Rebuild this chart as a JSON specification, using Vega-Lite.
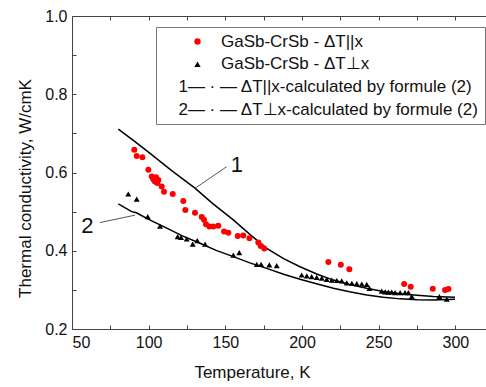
{
  "$schema": "https://vega.github.io/schema/vega-lite/v6.json",
  "width": 414,
  "height": 313,
  "autosize": "none",
  "padding": {"left": 72, "top": 16, "right": 0, "bottom": 58},
  "config": {
    "view": {"stroke": null},
    "font": "Liberation Sans",
    "axis": {
      "domainColor": "#444",
      "tickColor": "#444",
      "labelColor": "#111",
      "titleColor": "#111",
      "labelFont": "Liberation Sans",
      "titleFont": "Liberation Sans",
      "labelFontSize": 16,
      "titleFontSize": 17,
      "titleFontWeight": "normal",
      "grid": false,
      "tickSize": -4,
      "labelPadding": 9
    },
    "legend": {
      "labelFont": "Liberation Sans",
      "labelFontSize": 17,
      "labelColor": "#111",
      "title": null,
      "orient": "none",
      "legendX": 84,
      "legendY": 11,
      "padding": 6,
      "rowPadding": 4.7,
      "strokeColor": "#777",
      "fillColor": "#fff",
      "symbolSize": 40,
      "symbolOffset": 27,
      "labelOffset": -37,
      "labelLimit": 500
    }
  },
  "datasets": {
    "points": [
      {"T": 90.6, "k": 0.658, "series": "GaSb-CrSb - ΔT||x"},
      {"T": 92.2, "k": 0.642, "series": "GaSb-CrSb - ΔT||x"},
      {"T": 95.9, "k": 0.639, "series": "GaSb-CrSb - ΔT||x"},
      {"T": 99.8, "k": 0.607, "series": "GaSb-CrSb - ΔT||x"},
      {"T": 102.0, "k": 0.590, "series": "GaSb-CrSb - ΔT||x"},
      {"T": 103.0, "k": 0.583, "series": "GaSb-CrSb - ΔT||x"},
      {"T": 104.8, "k": 0.588, "series": "GaSb-CrSb - ΔT||x"},
      {"T": 106.3, "k": 0.581, "series": "GaSb-CrSb - ΔT||x"},
      {"T": 104.1, "k": 0.577, "series": "GaSb-CrSb - ΔT||x"},
      {"T": 105.6, "k": 0.573, "series": "GaSb-CrSb - ΔT||x"},
      {"T": 108.5, "k": 0.564, "series": "GaSb-CrSb - ΔT||x"},
      {"T": 110.0, "k": 0.551, "series": "GaSb-CrSb - ΔT||x"},
      {"T": 115.7, "k": 0.545, "series": "GaSb-CrSb - ΔT||x"},
      {"T": 122.6, "k": 0.527, "series": "GaSb-CrSb - ΔT||x"},
      {"T": 123.9, "k": 0.504, "series": "GaSb-CrSb - ΔT||x"},
      {"T": 130.2, "k": 0.497, "series": "GaSb-CrSb - ΔT||x"},
      {"T": 134.6, "k": 0.486, "series": "GaSb-CrSb - ΔT||x"},
      {"T": 136.1, "k": 0.479, "series": "GaSb-CrSb - ΔT||x"},
      {"T": 137.4, "k": 0.468, "series": "GaSb-CrSb - ΔT||x"},
      {"T": 139.6, "k": 0.462, "series": "GaSb-CrSb - ΔT||x"},
      {"T": 142.2, "k": 0.462, "series": "GaSb-CrSb - ΔT||x"},
      {"T": 145.4, "k": 0.464, "series": "GaSb-CrSb - ΔT||x"},
      {"T": 149.2, "k": 0.449, "series": "GaSb-CrSb - ΔT||x"},
      {"T": 152.0, "k": 0.446, "series": "GaSb-CrSb - ΔT||x"},
      {"T": 158.1, "k": 0.438, "series": "GaSb-CrSb - ΔT||x"},
      {"T": 161.7, "k": 0.439, "series": "GaSb-CrSb - ΔT||x"},
      {"T": 165.7, "k": 0.432, "series": "GaSb-CrSb - ΔT||x"},
      {"T": 171.5, "k": 0.421, "series": "GaSb-CrSb - ΔT||x"},
      {"T": 173.1, "k": 0.412, "series": "GaSb-CrSb - ΔT||x"},
      {"T": 175.4, "k": 0.406, "series": "GaSb-CrSb - ΔT||x"},
      {"T": 217.2, "k": 0.371, "series": "GaSb-CrSb - ΔT||x"},
      {"T": 225.3, "k": 0.364, "series": "GaSb-CrSb - ΔT||x"},
      {"T": 230.9, "k": 0.353, "series": "GaSb-CrSb - ΔT||x"},
      {"T": 266.6, "k": 0.315, "series": "GaSb-CrSb - ΔT||x"},
      {"T": 270.9, "k": 0.308, "series": "GaSb-CrSb - ΔT||x"},
      {"T": 285.3, "k": 0.303, "series": "GaSb-CrSb - ΔT||x"},
      {"T": 293.3, "k": 0.300, "series": "GaSb-CrSb - ΔT||x"},
      {"T": 295.5, "k": 0.302, "series": "GaSb-CrSb - ΔT||x"},
      {"T": 86.7, "k": 0.545, "series": "GaSb-CrSb - ΔT⊥x"},
      {"T": 92.2, "k": 0.532, "series": "GaSb-CrSb - ΔT⊥x"},
      {"T": 99.4, "k": 0.487, "series": "GaSb-CrSb - ΔT⊥x"},
      {"T": 107.4, "k": 0.463, "series": "GaSb-CrSb - ΔT⊥x"},
      {"T": 118.9, "k": 0.436, "series": "GaSb-CrSb - ΔT⊥x"},
      {"T": 121.1, "k": 0.434, "series": "GaSb-CrSb - ΔT⊥x"},
      {"T": 124.8, "k": 0.430, "series": "GaSb-CrSb - ΔT⊥x"},
      {"T": 128.7, "k": 0.417, "series": "GaSb-CrSb - ΔT⊥x"},
      {"T": 131.7, "k": 0.426, "series": "GaSb-CrSb - ΔT⊥x"},
      {"T": 136.8, "k": 0.417, "series": "GaSb-CrSb - ΔT⊥x"},
      {"T": 155.2, "k": 0.389, "series": "GaSb-CrSb - ΔT⊥x"},
      {"T": 159.1, "k": 0.395, "series": "GaSb-CrSb - ΔT⊥x"},
      {"T": 170.5, "k": 0.365, "series": "GaSb-CrSb - ΔT⊥x"},
      {"T": 173.3, "k": 0.365, "series": "GaSb-CrSb - ΔT⊥x"},
      {"T": 178.7, "k": 0.364, "series": "GaSb-CrSb - ΔT⊥x"},
      {"T": 183.5, "k": 0.362, "series": "GaSb-CrSb - ΔT⊥x"},
      {"T": 199.8, "k": 0.338, "series": "GaSb-CrSb - ΔT⊥x"},
      {"T": 203.1, "k": 0.336, "series": "GaSb-CrSb - ΔT⊥x"},
      {"T": 206.3, "k": 0.334, "series": "GaSb-CrSb - ΔT⊥x"},
      {"T": 209.6, "k": 0.332, "series": "GaSb-CrSb - ΔT⊥x"},
      {"T": 212.9, "k": 0.330, "series": "GaSb-CrSb - ΔT⊥x"},
      {"T": 216.1, "k": 0.327, "series": "GaSb-CrSb - ΔT⊥x"},
      {"T": 219.4, "k": 0.325, "series": "GaSb-CrSb - ΔT⊥x"},
      {"T": 222.7, "k": 0.324, "series": "GaSb-CrSb - ΔT⊥x"},
      {"T": 225.9, "k": 0.323, "series": "GaSb-CrSb - ΔT⊥x"},
      {"T": 229.2, "k": 0.318, "series": "GaSb-CrSb - ΔT⊥x"},
      {"T": 232.5, "k": 0.317, "series": "GaSb-CrSb - ΔT⊥x"},
      {"T": 235.7, "k": 0.316, "series": "GaSb-CrSb - ΔT⊥x"},
      {"T": 239.0, "k": 0.315, "series": "GaSb-CrSb - ΔT⊥x"},
      {"T": 242.2, "k": 0.314, "series": "GaSb-CrSb - ΔT⊥x"},
      {"T": 244.0, "k": 0.304, "series": "GaSb-CrSb - ΔT⊥x"},
      {"T": 252.0, "k": 0.297, "series": "GaSb-CrSb - ΔT⊥x"},
      {"T": 254.2, "k": 0.295, "series": "GaSb-CrSb - ΔT⊥x"},
      {"T": 256.3, "k": 0.294, "series": "GaSb-CrSb - ΔT⊥x"},
      {"T": 258.5, "k": 0.294, "series": "GaSb-CrSb - ΔT⊥x"},
      {"T": 260.7, "k": 0.293, "series": "GaSb-CrSb - ΔT⊥x"},
      {"T": 264.0, "k": 0.293, "series": "GaSb-CrSb - ΔT⊥x"},
      {"T": 267.2, "k": 0.293, "series": "GaSb-CrSb - ΔT⊥x"},
      {"T": 269.4, "k": 0.293, "series": "GaSb-CrSb - ΔT⊥x"},
      {"T": 271.6, "k": 0.283, "series": "GaSb-CrSb - ΔT⊥x"},
      {"T": 289.6, "k": 0.283, "series": "GaSb-CrSb - ΔT⊥x"},
      {"T": 294.4, "k": 0.276, "series": "GaSb-CrSb - ΔT⊥x"}
    ],
    "curves": [
      {"T": 80.2, "k": 0.711, "curve": "1"},
      {"T": 90.0, "k": 0.682, "curve": "1"},
      {"T": 100.9, "k": 0.649, "curve": "1"},
      {"T": 115.0, "k": 0.605, "curve": "1"},
      {"T": 130.2, "k": 0.560, "curve": "1"},
      {"T": 142.0, "k": 0.520, "curve": "1"},
      {"T": 155.2, "k": 0.479, "curve": "1"},
      {"T": 166.0, "k": 0.442, "curve": "1"},
      {"T": 177.0, "k": 0.406, "curve": "1"},
      {"T": 188.0, "k": 0.380, "curve": "1"},
      {"T": 198.7, "k": 0.359, "curve": "1"},
      {"T": 210.0, "k": 0.340, "curve": "1"},
      {"T": 220.5, "k": 0.325, "curve": "1"},
      {"T": 231.0, "k": 0.314, "curve": "1"},
      {"T": 242.2, "k": 0.304, "curve": "1"},
      {"T": 253.0, "k": 0.296, "curve": "1"},
      {"T": 264.0, "k": 0.290, "curve": "1"},
      {"T": 275.0, "k": 0.286, "curve": "1"},
      {"T": 285.7, "k": 0.283, "curve": "1"},
      {"T": 299.8, "k": 0.281, "curve": "1"},
      {"T": 80.2, "k": 0.520, "curve": "2"},
      {"T": 88.9, "k": 0.500, "curve": "2"},
      {"T": 92.0, "k": 0.497, "curve": "2"},
      {"T": 94.4, "k": 0.492, "curve": "2"},
      {"T": 100.0, "k": 0.480, "curve": "2"},
      {"T": 111.8, "k": 0.458, "curve": "2"},
      {"T": 122.0, "k": 0.438, "curve": "2"},
      {"T": 133.5, "k": 0.419, "curve": "2"},
      {"T": 144.0, "k": 0.401, "curve": "2"},
      {"T": 155.2, "k": 0.385, "curve": "2"},
      {"T": 166.0, "k": 0.369, "curve": "2"},
      {"T": 177.0, "k": 0.355, "curve": "2"},
      {"T": 188.0, "k": 0.340, "curve": "2"},
      {"T": 198.7, "k": 0.327, "curve": "2"},
      {"T": 210.0, "k": 0.315, "curve": "2"},
      {"T": 220.5, "k": 0.304, "curve": "2"},
      {"T": 231.0, "k": 0.295, "curve": "2"},
      {"T": 242.2, "k": 0.287, "curve": "2"},
      {"T": 253.0, "k": 0.281, "curve": "2"},
      {"T": 264.0, "k": 0.277, "curve": "2"},
      {"T": 275.0, "k": 0.275, "curve": "2"},
      {"T": 285.7, "k": 0.274, "curve": "2"},
      {"T": 299.8, "k": 0.276, "curve": "2"}
    ],
    "leaders": [
      {"T1": 150.9, "k1": 0.615, "T2": 130.0, "k2": 0.559},
      {"T1": 68.3, "k1": 0.472, "T2": 91.1, "k2": 0.491}
    ],
    "marks": [
      {"T": 157.6, "k": 0.619, "label": "1"},
      {"T": 60.1, "k": 0.464, "label": "2"}
    ]
  },
  "layer": [
    {
      "data": {"name": "curves"},
      "mark": {"type": "line", "color": "#000", "strokeWidth": 1.5},
      "encoding": {
        "x": {"field": "T", "type": "quantitative", "scale": {"domain": [50, 320], "nice": false, "zero": false},
          "axis": {"orient": "top", "labels": false, "title": null, "values": [50, 75, 100, 125, 150, 175, 200, 225, 250, 275, 300]}},
        "y": {"field": "k", "type": "quantitative", "scale": {"domain": [0.2, 1.0], "nice": false, "zero": false}, "axis": null},
        "detail": {"field": "curve"},
        "order": {"field": "T"}
      }
    },
    {
      "data": {"name": "leaders"},
      "mark": {"type": "rule", "color": "#555", "strokeWidth": 1},
      "encoding": {
        "x": {"field": "T1", "type": "quantitative", "axis": null},
        "y": {"field": "k1", "type": "quantitative", "axis": null},
        "x2": {"field": "T2"},
        "y2": {"field": "k2"}
      }
    },
    {
      "data": {"name": "marks"},
      "mark": {"type": "text", "fontSize": 22, "font": "Liberation Sans", "color": "#111"},
      "encoding": {
        "x": {"field": "T", "type": "quantitative", "axis": null},
        "y": {"field": "k", "type": "quantitative", "axis": null},
        "text": {"field": "label"}
      }
    },
    {
      "data": {"name": "points"},
      "mark": {"type": "point", "filled": true, "opacity": 1, "size": 36},
      "encoding": {
        "x": {"field": "T", "type": "quantitative",
          "axis": {"orient": "bottom", "title": "Temperature, K", "titleX": 180, "titlePadding": 14,
            "values": [50, 75, 100, 125, 150, 175, 200, 225, 250, 275, 300],
            "labelExpr": "datum.value % 50 === 0 ? datum.label : ''"}},
        "y": {"field": "k", "type": "quantitative",
          "axis": {"orient": "left", "title": "Thermal conductivity, W/cmK", "titleY": 172, "titlePadding": 10,
            "values": [0.2, 0.3, 0.4, 0.5, 0.6, 0.7, 0.8, 0.9, 1.0], "format": ".1f",
            "labelExpr": "round(datum.value * 10) % 2 === 0 ? datum.label : ''"}},
        "color": {"field": "series", "type": "nominal",
          "scale": {"domain": ["GaSb-CrSb - ΔT||x", "GaSb-CrSb - ΔT⊥x", "1— · — ΔT||x-calculated by formule (2)", "2— · — ΔT⊥x-calculated by formule (2)"],
            "range": ["#ff0000", "#000000", "#000000", "#000000"]},
          "legend": {"labelExpr": "indexof(datum.label, 'GaSb') === 0 ? '\u200b\u00a0\u00a0\u00a0\u00a0\u00a0\u00a0\u00a0\u00a0\u00a0\u00a0\u00a0' + datum.label : '\u200b\u00a0\u00a0' + datum.label"}},
        "shape": {"field": "series", "type": "nominal",
          "scale": {"domain": ["GaSb-CrSb - ΔT||x", "GaSb-CrSb - ΔT⊥x", "1— · — ΔT||x-calculated by formule (2)", "2— · — ΔT⊥x-calculated by formule (2)"],
            "range": ["circle", "triangle-up", "M0,0", "M0,0"]},
          "legend": {"labelExpr": "indexof(datum.label, 'GaSb') === 0 ? '\u200b\u00a0\u00a0\u00a0\u00a0\u00a0\u00a0\u00a0\u00a0\u00a0\u00a0\u00a0' + datum.label : '\u200b\u00a0\u00a0' + datum.label"}}
      }
    }
  ],
  "resolve": {"axis": {"x": "independent", "y": "independent"}}
}
